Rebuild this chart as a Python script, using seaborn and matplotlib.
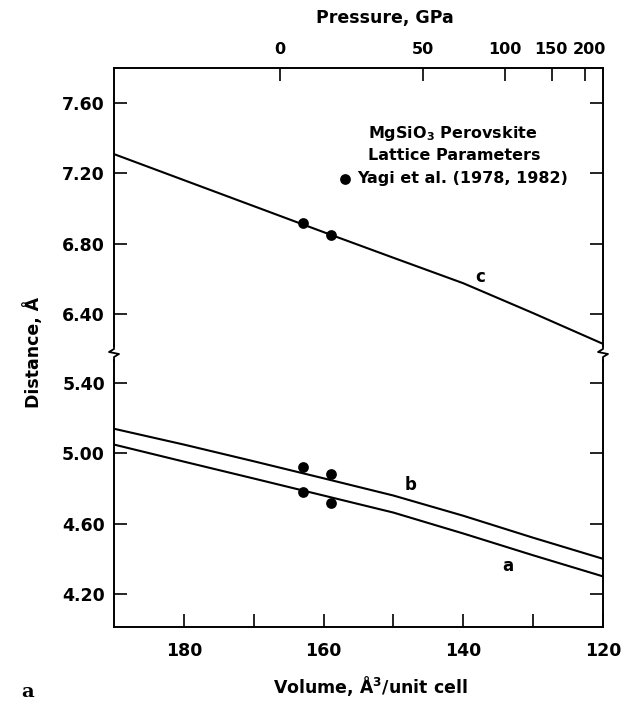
import numpy as np
import pandas as pd
import matplotlib
matplotlib.use("Agg")
import matplotlib.pyplot as plt
import matplotlib.transforms as mtransforms
from matplotlib.lines import Line2D
import seaborn as sns

# ---------------- data ----------------
volume = [190, 180, 170, 160, 150, 140, 130, 120]           # A^3 / unit cell
lat_a = [5.05, 4.953, 4.857, 4.76, 4.663, 4.544, 4.42, 4.30]
lat_b = [5.14, 5.05, 4.955, 4.858, 4.76, 4.645, 4.52, 4.40]
lat_c = [7.31, 7.162, 7.014, 6.866, 6.72, 6.575, 6.405, 6.23]

obs_volume = [163.0, 158.9]                                 # Yagi et al.
obs_a = [4.78, 4.72]
obs_b = [4.925, 4.885]
obs_c = [6.917, 6.849]

pressure_labels = ["0", "50", "100", "150", "200"]          # GPa
pressure_volume = [166.2, 145.8, 134.0, 127.3, 122.6]

volume_ticks = [180, 170, 160, 150, 140, 130, 120]
upper_yticks = [7.60, 7.20, 6.80, 6.40]
lower_yticks = [5.40, 5.00, 4.60, 4.20]

# ---------------- style ----------------
sns.set_style("ticks")
plt.rcParams["font.family"] = ["DejaVu Sans"]
plt.rcParams["font.weight"] = "bold"
plt.rcParams["axes.labelweight"] = "bold"
for k in ("text.color", "axes.labelcolor", "xtick.color", "ytick.color", "axes.edgecolor"):
    plt.rcParams[k] = "black"

FW, FH = 625, 707
fig = plt.figure(figsize=(FW / 100, FH / 100), dpi=100)

x0, x1 = 114, 603
ytop, ybrk, ybot = 68, 353, 627
L = x0 / FW
W = (x1 - x0) / FW
ax_up = fig.add_axes([L, (FH - ybrk) / FH, W, (ybrk - ytop) / FH])
ax_lo = fig.add_axes([L, (FH - ybot) / FH, W, (ybot - ybrk) / FH])

lines_df = pd.DataFrame({"volume": volume, "a": lat_a, "b": lat_b, "c": lat_c})
obs_df = pd.DataFrame({"volume": obs_volume, "a": obs_a, "b": obs_b, "c": obs_c})

lw = 1.5
sns.lineplot(data=lines_df, x="volume", y="c", ax=ax_up, color="black", lw=lw)
sns.lineplot(data=lines_df, x="volume", y="b", ax=ax_lo, color="black", lw=lw)
sns.lineplot(data=lines_df, x="volume", y="a", ax=ax_lo, color="black", lw=lw)

sns.scatterplot(data=obs_df, x="volume", y="c", ax=ax_up, color="black", s=60,
                edgecolor="black", linewidth=0, label="Yagi et al. (1978, 1982)", zorder=5)
sns.scatterplot(data=obs_df, x="volume", y="b", ax=ax_lo, color="black", s=60,
                edgecolor="black", linewidth=0, zorder=5)
sns.scatterplot(data=obs_df, x="volume", y="a", ax=ax_lo, color="black", s=60,
                edgecolor="black", linewidth=0, zorder=5)

for ax in (ax_up, ax_lo):
    ax.set_xlim(190, 120)
    ax.set_xlabel("")
    ax.set_ylabel("")
    for s in ax.spines.values():
        s.set_linewidth(1.4)
        s.set_color("black")
    ax.tick_params(axis="y", direction="in", length=9.5, width=1.2, left=True,
                   right=True, labelleft=True, labelright=False, labelsize=12.5, pad=6.5)

ax_up.set_ylim(6.178, 7.80)
ax_lo.set_ylim(4.012, 5.571)
ax_up.spines["bottom"].set_visible(False)
ax_lo.spines["top"].set_visible(False)

ax_up.set_yticks(upper_yticks)
ax_up.set_yticklabels([f"{v:.2f}" for v in upper_yticks])
ax_lo.set_yticks(lower_yticks)
ax_lo.set_yticklabels([f"{v:.2f}" for v in lower_yticks])

ax_up.set_xticks(pressure_volume)
ax_up.set_xticklabels(pressure_labels)
ax_up.tick_params(axis="x", direction="in", length=9.5, width=1.2, top=True, bottom=False,
                  labeltop=True, labelbottom=False, labelsize=11.5, pad=8)
# nudge the crowded high-pressure labels apart, as in the original
shifts = {"150": -1, "200": 5}
for lab in ax_up.get_xticklabels():
    dx = shifts.get(lab.get_text(), 0)
    if dx:
        lab.set_transform(lab.get_transform() +
                          mtransforms.ScaledTranslation(dx / 100, 0, fig.dpi_scale_trans))

ax_lo.set_xticks(volume_ticks)
ax_lo.set_xticklabels([str(v) if v % 20 == 0 else "" for v in volume_ticks])
ax_lo.tick_params(axis="x", direction="in", length=9.5, width=1.2, top=False, bottom=True,
                  labelsize=12.5, pad=11)

# legend
leg = ax_up.legend(title="MgSiO$_3$ Perovskite\nLattice Parameters", loc="upper right",
                   bbox_to_anchor=(568 / FW, 1 - 124 / FH), bbox_transform=fig.transFigure,
                   frameon=False, borderpad=0, borderaxespad=0, handlelength=0.7,
                   handletextpad=0.4, prop={"size": 11.5, "weight": "bold"},
                   title_fontproperties={"size": 11.5, "weight": "bold"})
leg.get_title().set_linespacing(1.4)
leg.get_title().set_color("black")

# curve labels
ax_up.text(137.6, 6.61, "c", fontsize=12, fontweight="bold", ha="center", va="center")
ax_lo.text(147.6, 4.818, "b", fontsize=12, fontweight="bold", ha="center", va="center")
ax_lo.text(133.6, 4.357, "a", fontsize=12, fontweight="bold", ha="center", va="center")

# axis titles
fig.text(385 / FW, 1 - 18 / FH, "Pressure, GPa", fontsize=12.5, fontweight="bold",
         ha="center", va="center")
fig.text(370 / FW, 1 - 686 / FH, "Volume, Å$^{\\mathbf{3}}$/unit cell", fontsize=12.5,
         fontweight="bold", ha="center", va="center")
fig.text(33 / FW, 1 - 352 / FH, "Distance, Å", fontsize=12.5, fontweight="bold",
         ha="center", va="center", rotation=90)
fig.text(28 / FW, 1 - 692 / FH, "a", fontsize=14, fontweight="bold",
         family="DejaVu Serif", ha="center", va="center")

# axis break zigzags on both vertical spines
for xs in (x0, x1):
    fig.add_artist(Line2D([xs / FW, xs / FW], [1 - (ybrk - 4) / FH, 1 - (ybrk + 4) / FH],
                          transform=fig.transFigure, color="white", lw=3, zorder=10))
    zx = [xs, xs, xs - 5, xs + 5, xs, xs]
    zy = [ybrk - 8, ybrk - 4, ybrk - 1, ybrk + 1, ybrk + 4, ybrk + 8]
    fig.add_artist(Line2D([v / FW for v in zx], [1 - v / FH for v in zy],
                          transform=fig.transFigure, color="black", lw=1.3, zorder=11))

fig.savefig("out.png", dpi=100)
